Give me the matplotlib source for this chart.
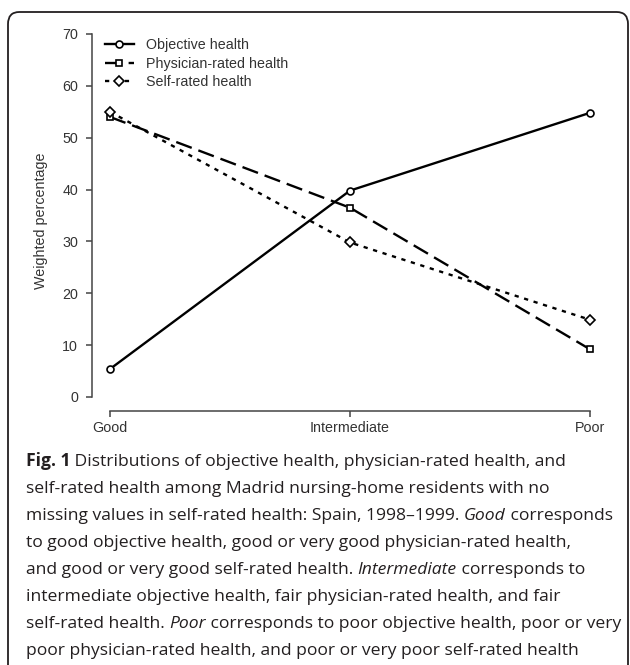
import matplotlib.pyplot as plt
from matplotlib.patches import FancyBboxPatch

categories = ["Good", "Intermediate", "Poor"]
objective = [5.4, 39.8, 54.8]
physician = [54.0, 36.5, 9.2]
self_rated = [55.0, 29.8, 14.9]
series_labels = ["Objective health", "Physician-rated health", "Self-rated health"]
y_ticks = [0, 10, 20, 30, 40, 50, 60, 70]

caption_lines = [
    [("Fig. 1", "bold"), (" Distributions of objective health, physician-rated health, and", "normal")],
    [("self-rated health among Madrid nursing-home residents with no", "normal")],
    [("missing values in self-rated health: Spain, 1998\u20131999. ", "normal"), ("Good", "italic"),
     (" corresponds", "normal")],
    [("to good objective health, good or very good physician-rated health,", "normal")],
    [("and good or very good self-rated health. ", "normal"), ("Intermediate", "italic"),
     (" corresponds to", "normal")],
    [("intermediate objective health, fair physician-rated health, and fair", "normal")],
    [("self-rated health. ", "normal"), ("Poor", "italic"),
     (" corresponds to poor objective health, poor or very", "normal")],
    [("poor physician-rated health, and poor or very poor self-rated health", "normal")],
]

W, H = 630, 665
fig = plt.figure(figsize=(W / 100, H / 100), dpi=100)

# rounded frame, runs off the bottom edge
frame = FancyBboxPatch((8 / W, -30 / H), 620 / W, (H - 12 + 30) / H,
                       boxstyle="round,pad=0,rounding_size=0.018",
                       transform=fig.transFigure, fill=False, lw=1.3, ec="#231f20")
fig.patches.append(frame)

ax = fig.add_axes([92 / W, (H - 411) / H, (600 - 92) / W, (411 - 30) / H])
x = list(range(len(categories)))
txt_col = "#333333"
fs = 10.3

ax.plot(x, objective, color="black", lw=1.7, marker="o", ms=5, mfc="white", mew=1.2,
        label=series_labels[0])
ax.plot(x, physician, color="black", lw=1.7, ls=(0, (7, 3)), marker="s", ms=5, mfc="white",
        mew=1.2, label=series_labels[1])
ax.plot(x, self_rated, color="black", lw=1.7, ls=(0, (1.8, 2.4)), marker="D", ms=5, mfc="white",
        mew=1.2, label=series_labels[2])

ax.set_xlim(-0.075, 2.0417)
ax.set_ylim(-2.7, 70.77)
for s in ["top", "right"]:
    ax.spines[s].set_visible(False)
ax.spines["left"].set_bounds(0, 70)
ax.spines["bottom"].set_bounds(0, 2)
for s in ["left", "bottom"]:
    ax.spines[s].set_color("#444444")
    ax.spines[s].set_linewidth(1.1)
ax.set_xticks(x)
ax.set_xticklabels(categories)
ax.set_yticks(y_ticks)
ax.tick_params(length=4.5, width=1.1, color="#444444", labelcolor=txt_col, labelsize=fs,
               labelfontfamily="Liberation Sans")
ax.tick_params(axis="y", pad=5.5)
ax.tick_params(axis="x", pad=3)
ax.set_ylabel("Weighted percentage", fontsize=fs, color=txt_col, family="Liberation Sans",
              labelpad=10)
ax.patch.set_visible(False)

leg = ax.legend(loc="upper left", bbox_to_anchor=(0.0256, 0.979), frameon=False,
                handlelength=2.0, handletextpad=0.85, labelspacing=0.32, borderaxespad=0,
                borderpad=0, prop={"family": "Liberation Sans", "size": fs})
for t in leg.get_texts():
    t.set_color(txt_col)

# caption: each line is a few text pieces set side by side
cap_font = "Open Sans"
cap_size = 12.6
rows = []
for i, line in enumerate(caption_lines):
    ypix = H - 466 - i * 27
    pieces = []
    for text, style in line:
        t = fig.text(26 / W, ypix / H, text, fontsize=cap_size, family=cap_font,
                     color="#231f20", va="baseline", ha="left",
                     weight="bold" if style == "bold" else "normal",
                     style="italic" if style == "italic" else "normal")
        pieces.append(t)
    rows.append((ypix, pieces))

fig.canvas.draw()
renderer = fig.canvas.get_renderer()
for ypix, pieces in rows:
    xpos = 26
    for t in pieces:
        t.set_position((xpos / W, ypix / H))
        xpos = t.get_window_extent(renderer).x1

fig.savefig("out.png", dpi=100)
